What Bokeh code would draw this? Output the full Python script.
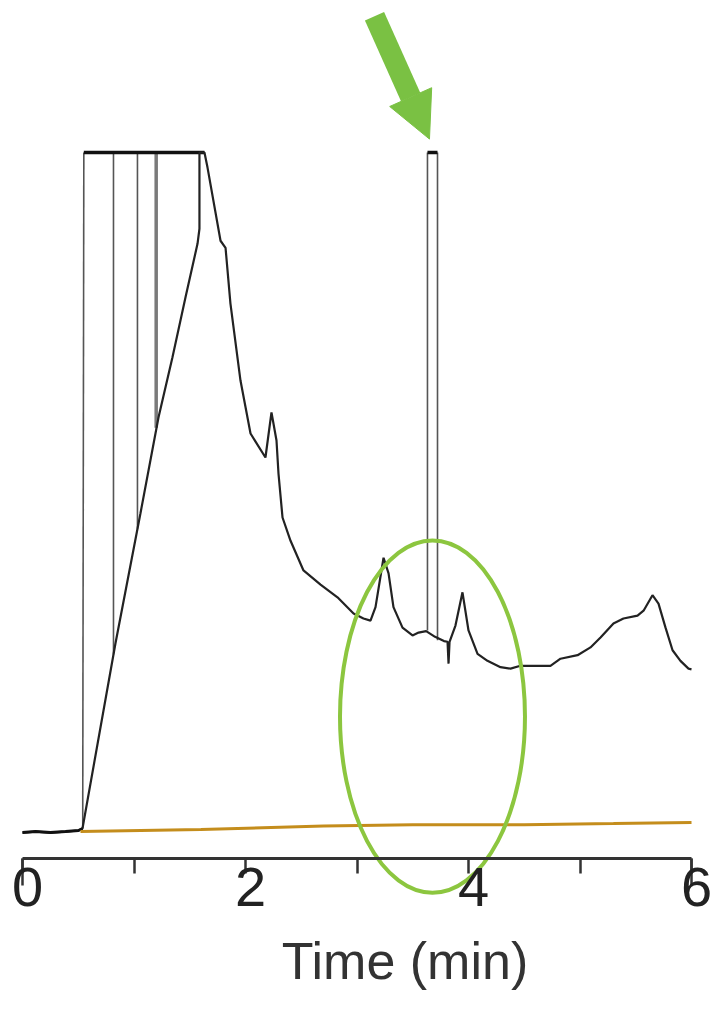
from bokeh.plotting import figure
from bokeh.models import Range1d, FixedTicker, LinearAxis, Arrow, NormalHead, Label, LabelSet, ColumnDataSource
from bokeh.core.properties import value
from bokeh.embed import file_html
from bokeh.resources import INLINE

# ---- data (time in min, signal in % of full scale) ----
trace_time = [0.0, 0.117, 0.251, 0.386, 0.502, 0.538, 0.834, 1.058, 1.220, 1.345, 1.462, 1.570,
              1.587, 1.587, 1.632, 1.659, 1.776, 1.821, 1.865, 1.955, 2.045, 2.179, 2.233, 2.278,
              2.296, 2.332, 2.404, 2.520, 2.673, 2.825, 2.969, 3.058, 3.121, 3.166, 3.238, 3.283,
              3.327, 3.408, 3.498, 3.552, 3.620, 3.700, 3.780, 3.812, 3.821, 3.830, 3.883, 3.946,
              4.000, 4.081, 4.170, 4.287, 4.377, 4.466, 4.583, 4.735, 4.825, 4.978, 5.094, 5.184,
              5.300, 5.390, 5.516, 5.570, 5.650, 5.704, 5.767, 5.830, 5.901, 5.973, 6.000]
trace_signal = [3.68, 3.82, 3.68, 3.82, 3.97, 4.25, 30.5, 48.9, 62.5, 71.0, 79.5, 87.1,
                89.2, 100.0, 100.0, 97.9, 87.5, 86.5, 78.6, 67.7, 60.2, 56.8, 63.2, 59.2,
                54.5, 48.3, 45.0, 40.8, 38.8, 37.0, 34.7, 34.0, 33.7, 35.6, 42.6, 40.4,
                35.6, 32.7, 31.6, 32.0, 32.2, 31.4, 30.8, 30.7, 27.6, 30.7, 33.0, 37.7,
                32.3, 29.0, 28.0, 27.1, 26.9, 27.3, 27.3, 27.3, 28.3, 28.8, 29.9, 31.3,
                33.3, 34.0, 34.4, 35.1, 37.3, 36.1, 32.7, 29.5, 28.0, 26.9, 26.8]
baseline_points = 6  # first points before injection peak

# off-scale excursions (vertical strokes of the saturated signal)
overload_time = [[0.540, 0.550], [0.816, 0.816], [1.031, 1.031], [3.632, 3.632], [3.722, 3.722]]
overload_signal = [[4.3, 100.0], [100.0, 28.9], [100.0, 46.7], [32.3, 100.0], [100.0, 30.9]]
wide_overload_time = [1.199, 1.199]
wide_overload_signal = [100.0, 61.0]

# full-scale clipping level
clip_start = [0.550, 3.632]
clip_end = [1.632, 3.722]
clip_level = [100.0, 100.0]

# gradient / reference trace
gradient_time = [0.52, 1.6, 2.7, 3.5, 4.5, 5.3, 6.0]
gradient_signal = [3.82, 4.1, 4.6, 4.8, 4.8, 4.95, 5.1]

# highlighted region and arrow
roi_x, roi_y, roi_w, roi_h = 3.677, 20.1, 1.659, 49.9
arrow_from = (3.157, 119.3)
arrow_to = (3.650, 101.9)

tick_positions = [0, 1, 2, 3, 4, 5, 6]
tick_labels = ["0", "", "2", "", "4", "", "6"]
end_ticks = [0, 6]
x_label = "Time (min)"
x_label_pos = (3.43, -14.5)

# ---- figure ----
p = figure(width=712, height=1012, output_backend="svg", toolbar_location=None,
           x_axis_type=None, y_axis_type=None,
           x_range=Range1d(-0.1973, 6.1883), y_range=Range1d(-21.81, 121.53),
           min_border_left=0, min_border_right=0, min_border_top=0, min_border_bottom=0)
p.outline_line_color = None
p.xgrid.visible = False
p.ygrid.visible = False
p.background_fill_color = "white"
p.border_fill_color = "white"

# saturated strokes
p.multi_line(overload_time, overload_signal, line_color="#555555", line_width=1.6)
p.line(wide_overload_time, wide_overload_signal, line_color="#7a7a7a", line_width=3.5)
p.segment(clip_start, clip_level, clip_end, clip_level, line_color="#111111", line_width=3.5)

# main trace
p.line(trace_time, trace_signal, line_color="#222222", line_width=2.2)
p.line(trace_time[:baseline_points], trace_signal[:baseline_points], line_color="#111111", line_width=3)

# gradient trace
p.line(gradient_time, gradient_signal, line_color="#c48d1c", line_width=3)

# highlight ellipse
p.ellipse(x=[roi_x], y=[roi_y], width=[roi_w], height=[roi_h], fill_color=None,
          line_color="#8cc63f", line_width=4)

# arrow
p.add_layout(Arrow(x_start=arrow_from[0], y_start=arrow_from[1], x_end=arrow_to[0], y_end=arrow_to[1],
                   line_color="#7ac143", line_width=21,
                   end=NormalHead(size=46, fill_color="#7ac143", line_color="#7ac143", line_width=1)))

# axes
ax = LinearAxis(ticker=FixedTicker(ticks=tick_positions), fixed_location=0,
                bounds=(tick_positions[0], tick_positions[-1]))
ax.major_label_overrides = {t: "" for t in tick_positions}
ax.major_label_text_font_size = "1px"
ax.axis_line_color = "#333333"
ax.axis_line_width = 3
ax.major_tick_line_color = "#333333"
ax.major_tick_line_width = 2.5
ax.major_tick_out = 15
ax.major_tick_in = 0
ax.minor_tick_line_color = None
p.add_layout(ax, "below")

ax2 = LinearAxis(ticker=FixedTicker(ticks=end_ticks), fixed_location=0,
                 bounds=(end_ticks[0], end_ticks[-1]))
ax2.axis_line_color = None
ax2.major_tick_line_color = "#333333"
ax2.major_tick_line_width = 2.5
ax2.major_tick_out = 27
ax2.major_tick_in = 0
ax2.minor_tick_line_color = None
ax2.major_label_overrides = {t: "" for t in end_ticks}
ax2.major_label_text_font_size = "1px"
p.add_layout(ax2, "below")

# tick labels (slightly right of their ticks, as in the original)
lab_src = ColumnDataSource(dict(
    x=[t for t, l in zip(tick_positions, tick_labels) if l],
    y=[0 for t, l in zip(tick_positions, tick_labels) if l],
    text=[l for l in tick_labels if l]))
p.add_layout(LabelSet(x="x", y="y", text="text", source=lab_src, x_offset=5, y_offset=-9,
                      text_align="center", text_baseline="top",
                      text_font=value("Liberation Sans"),
                      text_font_size=value("56px"), text_color=value("#222222")))

# axis title
p.add_layout(Label(x=x_label_pos[0], y=x_label_pos[1], text=x_label, text_align="center",
                   text_baseline="alphabetic", text_font="Liberation Sans",
                   text_font_size="52px", text_color="#333333"))

open("out.html", "w").write(file_html(p, INLINE))
